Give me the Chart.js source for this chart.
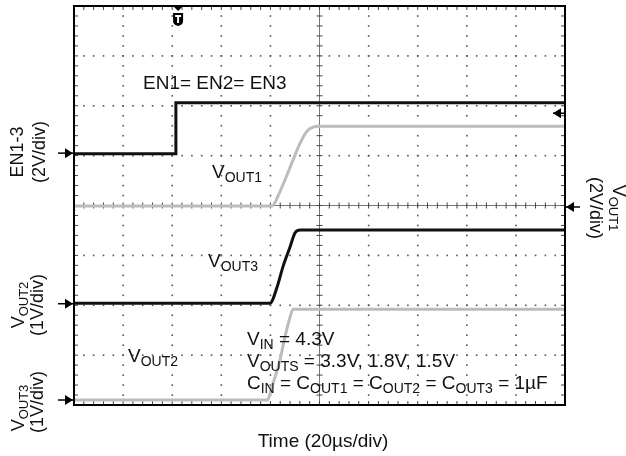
<!DOCTYPE html>
<html>
<head>
<meta charset="utf-8">
<script src="https://cdn.jsdelivr.net/npm/chart.js@4.4.1/dist/chart.umd.min.js"></script>
<style>
  html, body { margin: 0; padding: 0; background: #fff; }
  #wrap { width: 626px; height: 456px; }
</style>
</head>
<body>
<div id="wrap"><canvas id="canvas" width="626" height="456"></canvas></div>
<script>
// time in microseconds (20us/div, 10 div), level in screen divisions (8 div)
const enTime = [0, 41.5, 41.5, 200];
const enLevel = [5.04, 5.04, 6.06, 6.06];

const vout1Time = [0, 80.7, 83.1, 85.9, 89.2, 92.1, 94.9, 97.4, 99.4, 200];
const vout1Level = [3.99, 3.99, 4.19, 4.51, 4.91, 5.25, 5.49, 5.57, 5.59, 5.59];

const vout3Time = [0, 79.8, 82.7, 85.1, 88.0, 90.0, 92.1, 200];
const vout3Level = [2.04, 2.04, 2.36, 2.77, 3.17, 3.45, 3.51, 3.51];

const vout2Time = [0, 78.6, 81.1, 83.9, 85.9, 88.0, 89.2, 200];
const vout2Level = [0.10, 0.10, 0.44, 0.90, 1.36, 1.76, 1.92, 1.92];

// channel reference markers (screen divisions) and trigger time
const leftMarkers = [5.05, 2.03, 0.10];
const rightInnerMarker = 5.85;
const rightOuterMarker = 3.97;
const triggerTime = 42.4;

const FONT = '"Liberation Sans", Arial, sans-serif';

function toPoints(xs, ys) {
  return xs.map((x, i) => ({x: x, y: ys[i]}));
}

// split "V_{OUT1}" into normal / subscript pieces
function splitRich(s) {
  const out = [];
  const re = /_\{([^}]*)\}/g;
  let last = 0, m;
  while ((m = re.exec(s))) {
    if (m.index > last) out.push([s.slice(last, m.index), false]);
    out.push([m[1], true]);
    last = re.lastIndex;
  }
  if (last < s.length) out.push([s.slice(last), false]);
  return out;
}

function drawRich(ctx, s, x, y, size, align) {
  const subSize = Math.round(size * 0.74);
  const parts = splitRich(s);
  let w = 0;
  for (const p of parts) {
    ctx.font = (p[1] ? subSize : size) + 'px ' + FONT;
    w += ctx.measureText(p[0]).width;
  }
  let cx = align === 'center' ? x - w / 2 : x;
  ctx.textAlign = 'left';
  ctx.textBaseline = 'alphabetic';
  for (const p of parts) {
    ctx.font = (p[1] ? subSize : size) + 'px ' + FONT;
    ctx.fillText(p[0], cx, p[1] ? y + 4 : y);
    cx += ctx.measureText(p[0]).width;
  }
}

function drawRotated(ctx, s, cx, cy, angle, size) {
  ctx.save();
  ctx.translate(cx, cy);
  ctx.rotate(angle);
  drawRich(ctx, s, 0, 0, size, 'center');
  ctx.restore();
}

function arrow(ctx, x1, x2, y, headLeft) {
  ctx.strokeStyle = '#000';
  ctx.fillStyle = '#000';
  ctx.lineWidth = 1.5;
  ctx.beginPath();
  ctx.moveTo(x1, y);
  ctx.lineTo(x2, y);
  ctx.stroke();
  ctx.beginPath();
  if (headLeft) {
    ctx.moveTo(x1, y);
    ctx.lineTo(x1 + 8, y - 5);
    ctx.lineTo(x1 + 8, y + 5);
  } else {
    ctx.moveTo(x2, y);
    ctx.lineTo(x2 - 8, y - 5);
    ctx.lineTo(x2 - 8, y + 5);
  }
  ctx.closePath();
  ctx.fill();
}

// oscilloscope graticule
const graticule = {
  id: 'graticule',
  beforeDatasetsDraw(chart) {
    const ctx = chart.ctx;
    const xs = chart.scales.x, ys = chart.scales.y;
    const a = chart.chartArea;
    ctx.save();
    ctx.fillStyle = '#555';
    // dotted division lines
    for (let i = 1; i < 10; i++) {
      if (i === 5) continue;
      const px = xs.getPixelForValue(i * 20);
      for (let j = 1; j < 40; j++) {
        const py = ys.getPixelForValue(j * 0.2);
        ctx.fillRect(px - 0.75, py - 0.75, 1.6, 1.6);
      }
    }
    for (let k = 1; k < 8; k++) {
      if (k === 4) continue;
      const py = ys.getPixelForValue(k);
      for (let j = 1; j < 50; j++) {
        const px = xs.getPixelForValue(j * 4);
        ctx.fillRect(px - 0.75, py - 0.75, 1.6, 1.6);
      }
    }
    // center cross with minor ticks
    const cxp = xs.getPixelForValue(100), cyp = ys.getPixelForValue(4);
    ctx.strokeStyle = '#777';
    ctx.lineWidth = 1;
    ctx.beginPath();
    ctx.moveTo(a.left, cyp); ctx.lineTo(a.right, cyp);
    ctx.moveTo(cxp, a.top); ctx.lineTo(cxp, a.bottom);
    ctx.stroke();
    ctx.strokeStyle = '#444';
    ctx.beginPath();
    for (let j = 1; j < 50; j++) {
      const px = xs.getPixelForValue(j * 4);
      ctx.moveTo(px, cyp - 3); ctx.lineTo(px, cyp + 3);
      ctx.moveTo(px, a.top); ctx.lineTo(px, a.top + 4);
      ctx.moveTo(px, a.bottom); ctx.lineTo(px, a.bottom - 4);
    }
    for (let j = 1; j < 40; j++) {
      const py = ys.getPixelForValue(j * 0.2);
      ctx.moveTo(cxp - 3, py); ctx.lineTo(cxp + 3, py);
      ctx.moveTo(a.left, py); ctx.lineTo(a.left + 4, py);
      ctx.moveTo(a.right, py); ctx.lineTo(a.right - 4, py);
    }
    ctx.stroke();
    ctx.restore();
  },
  afterDraw(chart) {
    const ctx = chart.ctx;
    const xs = chart.scales.x, ys = chart.scales.y;
    const a = chart.chartArea;
    ctx.save();
    // frame
    ctx.strokeStyle = '#000';
    ctx.lineWidth = 2;
    ctx.strokeRect(a.left, a.top, a.right - a.left, a.bottom - a.top);

    // trigger marker
    const tx = xs.getPixelForValue(triggerTime);
    ctx.fillStyle = '#000';
    ctx.beginPath();
    ctx.moveTo(tx - 5, a.top); ctx.lineTo(tx + 5, a.top); ctx.lineTo(tx, a.top + 5);
    ctx.closePath(); ctx.fill();
    ctx.beginPath();
    ctx.moveTo(tx - 5, a.top + 7);
    ctx.lineTo(tx + 5, a.top + 7);
    ctx.lineTo(tx + 5, a.top + 15);
    ctx.quadraticCurveTo(tx + 5, a.top + 19, tx, a.top + 20);
    ctx.quadraticCurveTo(tx - 5, a.top + 19, tx - 5, a.top + 15);
    ctx.closePath(); ctx.fill();
    ctx.fillStyle = '#fff';
    ctx.fillRect(tx - 3, a.top + 9, 6, 2);
    ctx.fillRect(tx - 1, a.top + 9, 2, 8);

    // reference arrows
    for (const m of leftMarkers) {
      arrow(ctx, a.left - 16, a.left - 1, ys.getPixelForValue(m), false);
    }
    arrow(ctx, a.right - 12, a.right, ys.getPixelForValue(rightInnerMarker), true);
    arrow(ctx, a.right + 1, a.right + 15, ys.getPixelForValue(rightOuterMarker), true);

    // annotations
    ctx.fillStyle = '#111';
    drawRich(ctx, 'EN1= EN2= EN3', 143, 89, 19, 'left');
    drawRich(ctx, 'V_{OUT1}', 212, 178, 19, 'left');
    drawRich(ctx, 'V_{OUT3}', 208, 267, 19, 'left');
    drawRich(ctx, 'V_{OUT2}', 128, 362, 19, 'left');
    drawRich(ctx, 'V_{IN} = 4.3V', 247, 345, 19, 'left');
    drawRich(ctx, 'V_{OUTS} = 3.3V, 1.8V, 1.5V', 247, 367, 19, 'left');
    drawRich(ctx, 'C_{IN} = C_{OUT1} = C_{OUT2} = C_{OUT3} = 1µF', 247, 389, 19, 'left');
    drawRich(ctx, 'Time (20µs/div)', 323, 447, 19, 'center');

    // channel scale labels
    drawRotated(ctx, 'EN1-3', 23, 152, -Math.PI / 2, 18);
    drawRotated(ctx, '(2V/div)', 45, 152, -Math.PI / 2, 18);
    drawRotated(ctx, 'V_{OUT2}', 24, 305, -Math.PI / 2, 18);
    drawRotated(ctx, '(1V/div)', 43, 305, -Math.PI / 2, 18);
    drawRotated(ctx, 'V_{OUT3}', 24, 408, -Math.PI / 2, 18);
    drawRotated(ctx, '(1V/div)', 43, 402, -Math.PI / 2, 18);
    drawRotated(ctx, 'V_{OUT1}', 613, 208, Math.PI / 2, 18);
    drawRotated(ctx, '(2V/div)', 590, 208, Math.PI / 2, 18);
    ctx.restore();
  }
};

const bgPlugin = {
  id: 'bg',
  beforeDraw(chart) {
    const ctx = chart.ctx;
    ctx.save();
    ctx.fillStyle = '#fff';
    ctx.fillRect(0, 0, chart.width, chart.height);
    ctx.restore();
  }
};

const ctx = document.getElementById('canvas').getContext('2d');
const myChart = new Chart(ctx, {
  type: 'scatter',
  data: {
    datasets: [
      {label: 'EN', data: toPoints(enTime, enLevel), borderColor: '#111', borderWidth: 3, showLine: true, pointRadius: 0, tension: 0},
      {label: 'VOUT3', data: toPoints(vout3Time, vout3Level), borderColor: '#111', borderWidth: 3, showLine: true, pointRadius: 0, cubicInterpolationMode: 'monotone'},
      {label: 'VOUT1', data: toPoints(vout1Time, vout1Level), borderColor: '#bcbcbc', borderWidth: 3, showLine: true, pointRadius: 0, cubicInterpolationMode: 'monotone'},
      {label: 'VOUT2', data: toPoints(vout2Time, vout2Level), borderColor: '#bcbcbc', borderWidth: 3, showLine: true, pointRadius: 0, cubicInterpolationMode: 'monotone'}
    ]
  },
  options: {
    responsive: false,
    animation: false,
    layout: {padding: {left: 74, right: 61, top: 6, bottom: 51}},
    plugins: {legend: {display: false}, tooltip: {enabled: false}},
    scales: {
      x: {type: 'linear', display: false, min: 0, max: 200},
      y: {type: 'linear', display: false, min: 0, max: 8}
    }
  },
  plugins: [bgPlugin, graticule]
});
</script>
</body>
</html>
